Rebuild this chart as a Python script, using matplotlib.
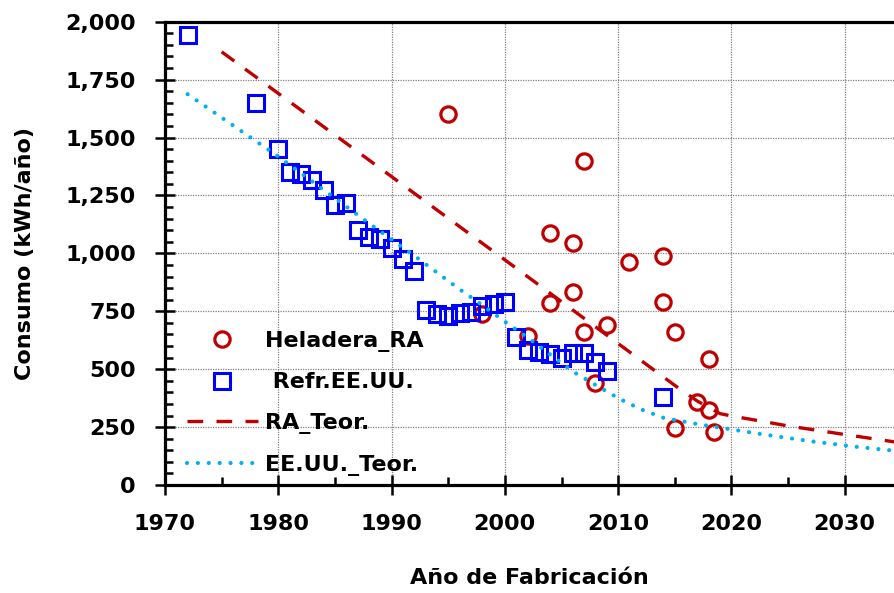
import numpy as np
import matplotlib
matplotlib.use("Agg")
import matplotlib.pyplot as plt
from matplotlib.ticker import MultipleLocator, FuncFormatter

plt.rcParams['font.family'] = ['DejaVu Sans']
plt.rcParams['font.weight'] = 'bold'
plt.rcParams['font.size'] = 16

# Heladera_RA (measured)
ra_years = [1995, 1998, 2002, 2004, 2004, 2006, 2006, 2007, 2007, 2008, 2009, 2011,
            2014, 2014, 2015, 2015, 2017, 2018, 2018, 2018.5]
ra_vals = [1600, 740, 645, 1088, 785, 1043, 832, 1400, 662, 439, 691, 964,
           990, 791, 659, 248, 360, 543, 324, 230]

# Refr.EE.UU. (measured)
us_years = [1972, 1978, 1980, 1981, 1982, 1983, 1984, 1985, 1986, 1987, 1988, 1989,
            1990, 1991, 1992, 1993, 1994, 1995, 1996, 1997, 1998, 1999, 2000, 2001,
            2002, 2003, 2004, 2005, 2006, 2007, 2008, 2009, 2014]
us_vals = [1943, 1648, 1449, 1350, 1341, 1317, 1274, 1209, 1216, 1101, 1072, 1061,
           1023, 976, 924, 755, 737, 731, 741, 745, 772, 782, 790, 638,
           583, 573, 566, 550, 568, 569, 530, 490, 381]

# RA_Teor.
ra_teor_years = [1975, 2000, 2015, 2017, 2019, 2020, 2022, 2025, 2030, 2034.4]
ra_teor_vals = [1870, 972, 430, 362, 308, 298, 281, 255, 218, 186]

# EE.UU._Teor.
us_teor_years = [1972, 1980, 1988, 1992, 1996, 1998, 2000, 2002, 2004, 2006, 2008,
                 2010, 2012, 2014, 2017, 2020, 2023, 2027, 2031, 2034.4]
us_teor_vals = [1687, 1418, 1130, 990, 845, 777, 705, 637, 563, 490, 432,
                375, 327, 290, 263, 240, 217, 189, 165, 148]

fig = plt.figure(figsize=(8.94, 5.93), dpi=100)
ax = fig.add_axes([165/894, 108/593, 729/894, 463.3/593])

ax.plot(ra_years, ra_vals, 'o', ms=11, mfc='none', mec='#C00000', mew=2.3,
        label='Heladera_RA')
ax.plot(us_years, us_vals, 's', ms=11.5, mfc='none', mec='#0000FF', mew=2.2,
        label=' Refr.EE.UU.')
ax.plot(ra_teor_years, ra_teor_vals, color='#C00000', lw=2.4,
        linestyle=(0, (4.7, 4.0)), label='RA_Teor.')
ax.plot(us_teor_years, us_teor_vals, color='#00B0F0', lw=3.0,
        linestyle=(0, (0.01, 2.6)), dash_capstyle='round', label='EE.UU._Teor.')

ax.set_xlim(1970, 2034.35)
ax.set_ylim(0, 2000)
ax.xaxis.set_major_locator(MultipleLocator(10))
ax.xaxis.set_minor_locator(MultipleLocator(5))
ax.yaxis.set_major_locator(MultipleLocator(250))
ax.yaxis.set_minor_locator(MultipleLocator(50))
ax.yaxis.set_major_formatter(FuncFormatter(lambda v, p: '{:,.0f}'.format(v)))

ax.grid(True, which='major', color='#808080', linestyle=(0, (1, 1)), lw=0.9)
ax.set_axisbelow(True)

ax.tick_params(which='major', direction='inout', length=14, width=1.8, pad=14,
               labelsize=16)
ax.tick_params(which='minor', direction='in', length=6, width=1.8)
for s in ['left', 'bottom', 'top']:
    ax.spines[s].set_linewidth(2.3)
ax.spines['right'].set_visible(False)

ax.set_xlabel('Año de Fabricación', fontsize=16, fontweight='bold', labelpad=24)
ax.set_ylabel('Consumo (kWh/año)', fontsize=16, fontweight='bold', labelpad=22)

ax.legend(loc='lower left', bbox_to_anchor=(0.03, 0.02), frameon=False,
          numpoints=1, handlelength=3.2, handletextpad=0.3, labelspacing=0.93,
          borderpad=0, borderaxespad=0, prop={'size': 16, 'weight': 'bold'})

fig.savefig('out.png', dpi=100)
